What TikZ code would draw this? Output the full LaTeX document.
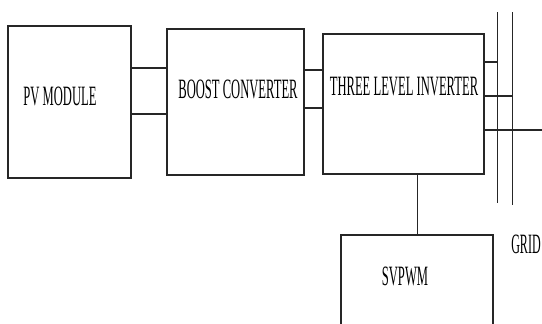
\documentclass[tikz,border=0pt]{standalone}
\usepackage{fontspec}
\setmainfont{Liberation Serif}
\begin{document}
\begin{tikzpicture}[x=1pt,y=-1pt,
  blockbox/.style={draw=black!85,line width=1.3pt,minimum width=#1},
  wire/.style={draw=black!85,line width=1.1pt},
  lbl/.style={inner sep=0pt,font=\fontsize{28}{30}\selectfont}]
\clip (0,0) rectangle (542,324);
\fill[white] (0,0) rectangle (542,324);
\node[blockbox=123pt,minimum height=152pt] (pv) at (69.5,102) {};
\node[blockbox=137pt,minimum height=146pt] (boost) at (235.5,102) {};
\node[blockbox=161pt,minimum height=140pt] (inv) at (403.5,104) {};
\node[blockbox=152pt,minimum height=178pt] (svpwm) at (417,324) {};
\node[lbl] (tpv) at (60,96) {\scalebox{0.45}[1]{PV MODULE}};
\node[lbl] (tboost) at (238,89) {\scalebox{0.45}[1]{BOOST CONVERTER}};
\node[lbl] (tinv) at (404,87) {\scalebox{0.45}[1]{THREE LEVEL INVERTER}};
\node[lbl] (tsv) at (405,276) {\scalebox{0.45}[1]{SVPWM}};
\node[lbl] (tgrid) at (526,244) {\scalebox{0.43}[1]{GRID}};
% grid bus lines
\coordinate (g1t) at (497,12);
\coordinate (g1b) at (497,203);
\coordinate (g2t) at (512,12);
\coordinate (g2b) at (512,205);
\coordinate (g3) at (545,130);
\draw[wire,line width=0.9pt] (g1t) -- (g1b);
\draw[wire,line width=0.9pt] (g2t) -- (g2b);
% connectors
\draw[wire] (pv.east |- 0,68) -- (boost.west |- 0,68);
\draw[wire] (pv.east |- 0,114) -- (boost.west |- 0,114);
\draw[wire] (boost.east |- 0,70) -- (inv.west |- 0,70);
\draw[wire] (boost.east |- 0,108) -- (inv.west |- 0,108);
\draw[wire] (inv.east |- 0,62) -- (g1t |- 0,62);
\draw[wire] (inv.east |- 0,96) -- (g2t |- 0,96);
\draw[wire] (inv.east |- g3) -- (g3);
\draw[wire,line width=0.8pt] (svpwm.north) -- (svpwm.north |- inv.south);
\end{tikzpicture}
\end{document}
